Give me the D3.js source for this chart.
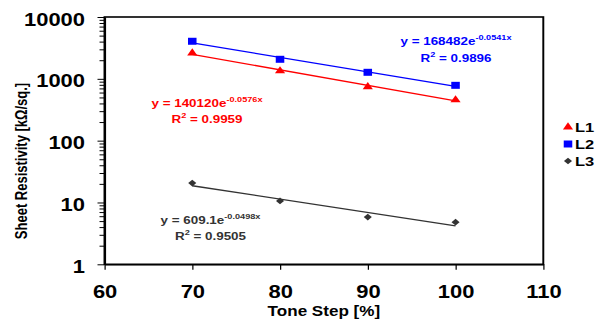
<!DOCTYPE html>
<html>
<head>
<meta charset="utf-8">
<script src="https://cdn.jsdelivr.net/npm/d3@7"></script>
<style>
  body { margin: 0; background: #fff; }
  svg { display: block; }
  text { font-family: Arial, "Liberation Sans", sans-serif; font-weight: bold; }
</style>
</head>
<body>
<div id="chart"></div>
<script>
// data
const toneSteps = [70, 80, 90, 100];
const seriesNames = ["L1", "L2", "L3"];
const l1Values = [2600, 1340, 745, 455];
const l2Values = [4050, 2070, 1275, 785];
const l3Values = [20.6, 10.6, 5.8, 4.8];
// exponential trendlines y = a * e^(b x)
const fitCoef = [140120, 168482, 609.1];
const fitExp = [-0.0576, -0.0541, -0.0498];
const fitR2 = ["0.9959", "0.9896", "0.9505"];
const xTicks = [60, 70, 80, 90, 100, 110];
const yTicks = [1, 10, 100, 1000, 10000];

// the original image is stretched horizontally, so draw in a narrower
// viewBox and let the svg stretch it back out
const SX = 1.22;
const px = v => v / SX;
const W = 599, H = 320;

const colors = ["#ff0000", "#0000ff", "#333333"];
const symbols = [d3.symbolTriangle, d3.symbolSquare, d3.symbolSquare];
const symSize = [30, 49, 22];
const symRot = [0, 0, 45];
const values = [l1Values, l2Values, l3Values];

const svg = d3.select("#chart").append("svg")
  .attr("width", W)
  .attr("height", H)
  .attr("viewBox", [0, 0, W / SX, H].join(" "))
  .attr("preserveAspectRatio", "none");

const x = d3.scaleLinear().domain([60, 110]).range([px(104.5), px(543.3)]);
const y = d3.scaleLog().domain([1, 10000]).range([264.3, 17]);

// minor ticks on the log axis
let minor = [];
yTicks.slice(0, -1).forEach(d => {
  for (let k = 2; k <= 9; k++) minor.push(d * k);
});

svg.append("g")
  .attr("transform", "translate(" + x(60) + ",0)")
  .call(d3.axisLeft(y).tickValues(minor).tickFormat("").tickSize(px(5)).tickSizeOuter(0))
  .call(g => g.select(".domain").remove())
  .call(g => g.selectAll("line").attr("stroke-width", 1));

const yAxis = svg.append("g")
  .attr("transform", "translate(" + x(60) + ",0)")
  .call(d3.axisLeft(y).tickValues(yTicks).tickFormat(d3.format("d"))
    .tickSize(px(7)).tickSizeOuter(0).tickPadding(px(12.5)));
yAxis.selectAll("text")
  .attr("font-size", 18)
  .attr("font-family", "Arial, 'Liberation Sans', sans-serif")
  .attr("font-weight", "bold")
  .attr("fill", "#000")
  .attr("dy", "0.45em");

const xAxis = svg.append("g")
  .attr("transform", "translate(0," + y(1) + ")")
  .call(d3.axisBottom(x).tickValues(xTicks).tickSize(5.5).tickSizeOuter(0).tickPadding(15.7));
xAxis.selectAll("text")
  .attr("font-size", 18)
  .attr("font-family", "Arial, 'Liberation Sans', sans-serif")
  .attr("font-weight", "bold")
  .attr("fill", "#000");

svg.selectAll(".domain").attr("stroke-width", 1.6);

// plot frame
svg.append("rect")
  .attr("x", x(60))
  .attr("y", y(10000))
  .attr("width", x(110) - x(60))
  .attr("height", y(1) - y(10000))
  .attr("fill", "none")
  .attr("stroke", "#000")
  .attr("stroke-width", 1.6);

// axis titles
svg.append("text")
  .attr("x", (x(60) + x(110)) / 2)
  .attr("y", 316.5)
  .attr("text-anchor", "middle")
  .attr("font-size", 14)
  .text("Tone Step [%]");

svg.append("text")
  .attr("transform", "translate(" + px(27) + ",161) rotate(-90)")
  .attr("text-anchor", "middle")
  .attr("font-size", 13)
  .text("Sheet Resistivity [kΩ/sq.]");

// trendlines
const fitLine = i => d3.line()
  .x(d => x(d))
  .y(d => y(fitCoef[i] * Math.exp(fitExp[i] * d)));

seriesNames.forEach((name, i) => {
  svg.append("path")
    .datum(d3.extent(toneSteps))
    .attr("d", fitLine(i))
    .attr("fill", "none")
    .attr("stroke", colors[i])
    .attr("stroke-width", 1.3);
});

// markers
seriesNames.forEach((name, i) => {
  svg.append("g").selectAll("path")
    .data(toneSteps.map((t, j) => [t, values[i][j]]))
    .join("path")
    .attr("transform", d => "translate(" + x(d[0]) + "," + y(d[1]) + ") rotate(" + symRot[i] + ")")
    .attr("d", d3.symbol().type(symbols[i]).size(symSize[i]))
    .attr("fill", colors[i]);
});

// trendline equations
const eqPos = [
  { cx: 207, y1: 107.5, y2: 123 },
  { cx: 456, y1: 45, y2: 62 },
  { cx: 210.5, y1: 224, y2: 240 }
];
seriesNames.forEach((name, i) => {
  const p = eqPos[i];
  const t1 = svg.append("text")
    .attr("x", px(p.cx))
    .attr("y", p.y1)
    .attr("text-anchor", "middle")
    .attr("font-size", 11)
    .attr("fill", colors[i]);
  t1.append("tspan").text("y = " + fitCoef[i] + "e");
  t1.append("tspan").attr("dy", -5).attr("font-size", 7.5).text(fitExp[i] + "x");

  const t2 = svg.append("text")
    .attr("x", px(p.cx))
    .attr("y", p.y2)
    .attr("text-anchor", "middle")
    .attr("font-size", 11)
    .attr("fill", colors[i]);
  t2.append("tspan").text("R");
  t2.append("tspan").attr("dy", -5).attr("font-size", 7.5).text("2");
  t2.append("tspan").attr("dy", 5).text(" = " + fitR2[i]);
});

// legend
const legendY = [127, 144, 161];
seriesNames.forEach((name, i) => {
  svg.append("path")
    .attr("transform", "translate(" + px(568) + "," + legendY[i] + ") rotate(" + symRot[i] + ")")
    .attr("d", d3.symbol().type(symbols[i]).size(symSize[i]))
    .attr("fill", colors[i]);
  svg.append("text")
    .attr("x", px(575))
    .attr("y", legendY[i] + 4.8)
    .attr("font-size", 13.5)
    .attr("fill", "#000")
    .text(name);
});
</script>
</body>
</html>
